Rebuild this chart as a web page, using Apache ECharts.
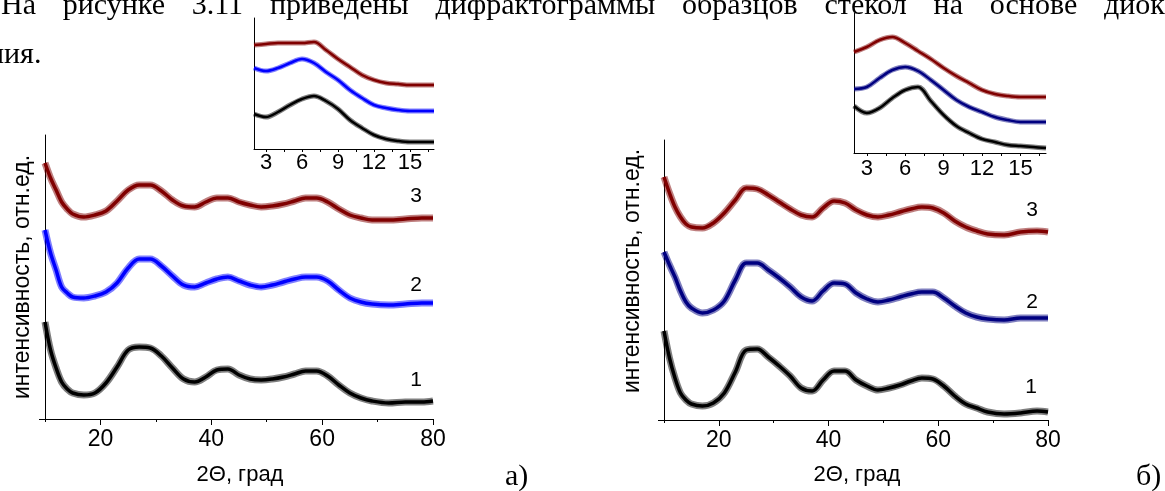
<!DOCTYPE html>
<html>
<head>
<meta charset="utf-8">
<script src="https://cdn.jsdelivr.net/npm/echarts@6/dist/echarts.min.js"></script>
<style>
html,body{margin:0;padding:0;background:#fff;}
#c{width:1165px;height:491px;}
</style>
</head>
<body>
<div id="c"></div>
<script>
// ---- data (2Θ in degrees, intensity in arbitrary units) ----
const xMain = [10,11,12,13,14,15,17,19,21,23,25,27,29,31,33,35,37,39,41,43,45,47,49,51,53,55,57,59,61,63,65,67,69,72,75,78,80];
const a1 = [97,69,51,37,30,26,24,26,36,52,69,72,71,63,51,40,37,42,49,50,44,40,39,40,42,45,48,48,43,34,26,21,18,16,17,17,18];
const a2 = [189,166,149,132,126,122,121,123,127,136,151,160,160,153,143,134,132,136,140,142,138,134,132,134,137,140,142,142,138,129,121,117,115,114,115,116,116];
const a3 = [256,241,229,217,210,205,202,204,208,218,229,234,234,228,219,213,212,217,221,221,217,214,212,213,215,218,221,221,217,210,204,201,199,199,200,201,201];
const b1 = [89,62,42,27,20,16,14,17,27,48,70,71,63,54,44,32,29,40,49,49,40,34,30,32,35,39,42,41,34,24,16,12,8,6,7,9,8];
const b2 = [168,155,143,129,118,112,107,110,119,140,157,157,150,142,133,123,119,129,137,136,127,121,118,120,123,126,128,128,122,114,107,103,101,100,102,102,102];
const b3 = [243,227,213,203,196,193,192,197,207,220,232,231,225,218,211,205,203,212,219,217,210,205,203,205,208,211,213,212,207,199,193,189,186,185,188,189,188];

const xInset = [2,3,4,5,6,7,8,9,10,11,12,13,14,15,16,17];
const ia1 = [35,32,37,44,50,53,48,40,29,21,14,10,8,7,7,7];
const ia2 = [81,78,81,86,90,86,77,69,59,51,44,41,39,38,38,38];
const ia3 = [104,105,106,106,106,107,99,90,82,74,69,66,65,64,64,64];
const ib1 = [47,40,45,55,63,66,52,38,27,20,14,11,8,7,6,5];
const ib2 = [64,66,75,83,86,82,73,63,53,46,41,36,33,31,31,31];
const ib3 = [101,106,113,116,110,102,94,85,77,70,63,59,57,56,56,56];

const mainMajorTicks = [20,40,60,80];
const mainMinorTicks = [10,30,50,70];
const insetLabels = [3,6,9,12,15];
const insetTicks = [3,4.5,6,7.5,9,10.5,12,13.5,15,16.5];
const curveNames = ['1','2','3'];
const xTitle = '2\u0398, град';
const yTitle = 'интенсивность, отн.ед.';
const line1Words = ['На','рисунке','3.11','приведены','дифрактограммы','образцов','стекол','на','основе','диоксида'];
const line2Text = 'ния.';
const panelTags = ['а)','б)'];

// ---- styling ----
const RED = '#800000', BLUE = '#0000ff', NAVY = '#000080', BLACK = '#000000';
const SANS = '"Liberation Sans", Arial, sans-serif';
const SERIF = '"Liberation Serif", "Times New Roman", serif';

function pairs(xs, ys){ return xs.map((x,i)=>[x, ys[i]]); }
function curve(xs, ys, color, xi, yi, core, band){
  const d = pairs(xs, ys);
  return [
    {type:'line', xAxisIndex:xi, yAxisIndex:yi, data:d, smooth:0.35, showSymbol:false, silent:true,
     lineStyle:{color:color, width:band, opacity:0.5}},
    {type:'line', xAxisIndex:xi, yAxisIndex:yi, data:d, smooth:0.35, showSymbol:false, silent:true,
     lineStyle:{color:color, width:core}}
  ];
}
function mainX(grid){
  return [
    {type:'value', gridIndex:grid, min:10, max:80, position:'bottom',
     axisLine:{onZero:false, lineStyle:{color:'#000', width:1}},
     axisTick:{customValues:mainMajorTicks, length:6, inside:false, lineStyle:{color:'#000'}},
     axisLabel:{customValues:mainMajorTicks, margin:9, color:'#000', fontSize:23, fontFamily:SANS},
     splitLine:{show:false}},
    {type:'value', gridIndex:grid, min:10, max:80, position:'bottom',
     axisLine:{show:false, onZero:false},
     axisTick:{customValues:mainMinorTicks, length:3, lineStyle:{color:'#000'}},
     axisLabel:{show:false}, splitLine:{show:false}}
  ];
}
function insetX(grid, margin){
  return {type:'value', gridIndex:grid, min:2, max:17, position:'bottom',
    axisLine:{onZero:false, lineStyle:{color:'#000', width:1}},
    axisTick:{customValues:insetTicks, length:3, lineStyle:{color:'#000'}},
    axisLabel:{customValues:insetLabels, margin:margin, color:'#000', fontSize:22, fontFamily:SANS},
    splitLine:{show:false}};
}
function plainY(grid, max){
  return {type:'value', gridIndex:grid, min:0, max:max,
    axisLine:{show:true, lineStyle:{color:'#000', width:1}},
    axisTick:{show:false}, axisLabel:{show:false}, splitLine:{show:false}};
}
function txt(x, y, text, font, opts){
  return Object.assign({type:'text', x:x, y:y, silent:true,
    style:Object.assign({text:text, font:font, fill:'#000', align:'left', verticalAlign:'middle'}, (opts&&opts.style)||{})},
    opts&&opts.el||{});
}

const chart = echarts.init(document.getElementById('c'), null, {renderer:'canvas'});

const series = [].concat(
  curve(xMain, a1, BLACK, 0, 0, 3.5, 7),
  curve(xMain, a2, BLUE, 0, 0, 3.5, 7),
  curve(xMain, a3, RED, 0, 0, 3.5, 7),
  curve(xInset, ia1, BLACK, 2, 1, 2.5, 5),
  curve(xInset, ia2, BLUE, 2, 1, 2.5, 5),
  curve(xInset, ia3, RED, 2, 1, 2.5, 5),
  curve(xMain, b1, BLACK, 3, 2, 3.5, 7),
  curve(xMain, b2, NAVY, 3, 2, 3.5, 7),
  curve(xMain, b3, RED, 3, 2, 3.5, 7),
  curve(xInset, ib1, BLACK, 5, 3, 2.5, 5),
  curve(xInset, ib2, NAVY, 5, 3, 2.5, 5),
  curve(xInset, ib3, RED, 5, 3, 2.5, 5)
);

// justified first text line: words spread evenly between first and last word start
const serifBody = '30px ' + SERIF;
const measureCtx = document.createElement('canvas').getContext('2d');
measureCtx.font = serifBody;
const firstX = 1, lastX = 1104;
const widths = line1Words.map(w => measureCtx.measureText(w).width);
const sumW = widths.slice(0, -1).reduce((s,v)=>s+v, 0);
const gap = (lastX - firstX - sumW) / (line1Words.length - 1);
const graphic = [];
let cx = firstX;
line1Words.forEach((w,i) => {
  graphic.push(txt(i === line1Words.length-1 ? lastX : cx, 6, w, serifBody));
  cx += widths[i] + gap;
});
graphic.push(txt(-12, 55, line2Text, serifBody));
graphic.push(txt(505, 477, panelTags[0], serifBody));
graphic.push(txt(1136, 477, panelTags[1], serifBody));
// axis titles
const title22 = '22px ' + SANS;
graphic.push(txt(240, 475, xTitle, title22, {style:{align:'center'}}));
graphic.push(txt(857, 475, xTitle, title22, {style:{align:'center'}}));
graphic.push(txt(23, 277, yTitle, '23px ' + SANS, {style:{align:'center'}, el:{rotation:Math.PI/2}}));
graphic.push(txt(633, 271, yTitle, '23px ' + SANS, {style:{align:'center'}, el:{rotation:Math.PI/2}}));
// short left extensions of the x-axis lines
graphic.push({type:'line', silent:true, shape:{x1:39, y1:419.5, x2:45, y2:419.5}, style:{stroke:'#000', lineWidth:1}});
graphic.push({type:'line', silent:true, shape:{x1:658, y1:420.5, x2:664, y2:420.5}, style:{stroke:'#000', lineWidth:1}});
// curve numbers
const lab21 = '21px ' + SANS;
graphic.push(txt(416, 380, curveNames[0], lab21, {style:{align:'center'}}));
graphic.push(txt(416, 285, curveNames[1], lab21, {style:{align:'center'}}));
graphic.push(txt(416, 196, curveNames[2], lab21, {style:{align:'center'}}));
graphic.push(txt(1031, 387, curveNames[0], lab21, {style:{align:'center'}}));
graphic.push(txt(1032, 302, curveNames[1], lab21, {style:{align:'center'}}));
graphic.push(txt(1032, 210, curveNames[2], lab21, {style:{align:'center'}}));

chart.setOption({
  animation:false,
  backgroundColor:'#fff',
  grid:[
    {left:45, top:135, width:388, height:284},
    {left:254, top:18, width:180, height:131},
    {left:664, top:140, width:384, height:280},
    {left:854, top:13, width:192, height:140}
  ],
  xAxis:[].concat(mainX(0), [insetX(1,3)], mainX(2), [insetX(3,5)]),
  yAxis:[plainY(0,284), plainY(1,131), plainY(2,280), plainY(3,140)],
  series:series,
  graphic:graphic
});
</script>
</body>
</html>
